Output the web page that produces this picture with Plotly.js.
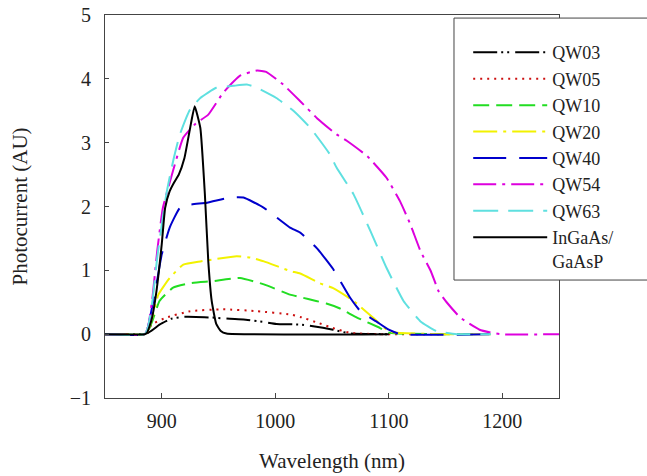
<!DOCTYPE html>
<html>
<head>
<meta charset="utf-8">
<script src="https://cdn.plot.ly/plotly-3.0.1.min.js"></script>
<style>html,body{margin:0;padding:0;background:#fff;}
#chart{position:absolute;left:0;top:0;z-index:5;width:647px;height:476px;}
#warm{position:absolute;left:560px;top:300px;z-index:1;color:#fff;font-size:18px;}
</style>
</head>
<body>
<div id="warm">
<div style="font-family:'Liberation Serif'">nm</div>
<div style="font-family:'Times New Roman'">nm</div>
<div style="font-family:serif">nm</div>
</div>
<div id="chart"></div>
<script>
// Data
const seriesNames = ["QW03", "QW05", "QW10", "QW20", "QW40", "QW54", "QW63", "InGaAs/<br>GaAsP"];

const qw03X = [850, 885, 888, 893, 898, 908, 918, 930, 945, 960, 972, 990, 1001, 1022, 1042, 1051, 1066, 1100];
const qw03Y = [0, 0, 0.02, 0.08, 0.15, 0.24, 0.27, 0.27, 0.26, 0.24, 0.23, 0.19, 0.16, 0.15, 0.10, 0.07, 0.01, 0];

const qw05X = [850, 885, 888, 891, 904, 925, 954, 984, 1013, 1022, 1039, 1050, 1066, 1090, 1150];
const qw05Y = [0, 0, 0.05, 0.15, 0.26, 0.36, 0.39, 0.36, 0.31, 0.27, 0.17, 0.10, 0.02, 0, 0];

const qw10X = [850, 885, 888, 892, 898, 910, 925, 945, 969, 990, 1013, 1022, 1036, 1045, 1056, 1072, 1092, 1101, 1180];
const qw10Y = [0, 0, 0.05, 0.22, 0.52, 0.73, 0.80, 0.83, 0.88, 0.78, 0.62, 0.58, 0.52, 0.48, 0.41, 0.26, 0.10, 0.02, 0];

const qw20X = [850, 885, 888, 892, 897, 907, 919, 934, 966, 978, 990, 1013, 1022, 1039, 1051, 1069, 1086, 1101, 1190];
const qw20Y = [0, 0, 0.06, 0.28, 0.62, 0.88, 1.09, 1.14, 1.22, 1.20, 1.14, 0.99, 0.95, 0.80, 0.72, 0.52, 0.26, 0.04, 0];

const qw40X = [850, 885, 888, 892, 896, 900, 907, 916, 925, 940, 960, 972, 990, 1013, 1022, 1037, 1051, 1066, 1075, 1089, 1100, 1110, 1195];
const qw40Y = [0, 0, 0.12, 0.47, 0.85, 1.25, 1.67, 1.98, 2.03, 2.06, 2.14, 2.14, 1.98, 1.67, 1.59, 1.34, 1.02, 0.57, 0.36, 0.20, 0.07, 0, 0];

const qw54X = [850, 885, 888, 892, 896, 901, 909, 919, 930, 941, 954, 969, 984, 992, 1007, 1022, 1037, 1054, 1063, 1081, 1098, 1110, 1119, 1128, 1137, 1144, 1151, 1163, 1180, 1198, 1250];
const qw54Y = [0, 0, 0.12, 0.60, 1.30, 1.98, 2.50, 3.08, 3.30, 3.44, 3.78, 4.05, 4.13, 4.11, 3.91, 3.65, 3.38, 3.13, 3.03, 2.79, 2.45, 2.08, 1.72, 1.30, 0.99, 0.67, 0.50, 0.26, 0.07, 0, 0];

const qw63X = [850, 885, 888, 892, 896, 904, 910, 916, 925, 934, 948, 963, 975, 984, 1001, 1016, 1031, 1048, 1054, 1069, 1084, 1098, 1113, 1128, 1142, 1160, 1190];
const qw63Y = [0, 0, 0.12, 0.55, 1.20, 2.19, 2.71, 3.13, 3.52, 3.70, 3.86, 3.89, 3.91, 3.86, 3.70, 3.50, 3.23, 2.82, 2.61, 2.19, 1.61, 1.04, 0.52, 0.20, 0.05, 0, 0];

const ingaasX = [850, 885, 887, 891, 895, 900, 903, 907, 911, 915, 920, 925, 929, 934, 938, 941, 944, 948, 952, 957, 1100];
const ingaasY = [0, 0, 0.02, 0.22, 0.63, 1.41, 1.98, 2.24, 2.38, 2.50, 2.76, 3.23, 3.57, 3.23, 2.19, 1.14, 0.52, 0.16, 0.05, 0.01, 0];

const xTickVals = [900, 1000, 1100, 1200];
const yTickVals = [-1, 0, 1, 2, 3, 4, 5];

const xs = [qw03X, qw05X, qw10X, qw20X, qw40X, qw54X, qw63X, ingaasX];
const ys = [qw03Y, qw05Y, qw10Y, qw20Y, qw40Y, qw54Y, qw63Y, ingaasY];
const colors = ["#000000", "#cc1010", "#22dd22", "#f2f200", "#0000cc", "#dd00dd", "#5fe0e0", "#000000"];
const dashes = ["24px,4px,2px,4px,2px,6px", "2px,5px", "16px,7px", "24px,6px,3px,6px", "33px,13px", "23px,6px,3px,6px", "25px,10px", "solid"];

const FONT = "Liberation Serif";

const traces = seriesNames.map((n, i) => ({
  type: "scatter",
  mode: "lines",
  name: n,
  x: xs[i],
  y: ys[i],
  line: {color: colors[i], width: 2, dash: dashes[i], shape: "spline", smoothing: 0.4}
}));

const layout = {
  width: 647, height: 476,
  margin: {l: 105, r: 88, t: 15, b: 78},
  font: {family: FONT, size: 20},
  showlegend: true,
  legend: {
    x: 0.80, y: 0.95, xanchor: "left", yanchor: "top",
    bgcolor: "rgba(0,0,0,0)", borderwidth: 0,
    font: {size: 18, color: "#222222"},
    itemwidth: 74, valign: "top", tracegroupgap: 0
  },
  xaxis: {
    range: [850, 1250],
    tickvals: xTickVals,
    ticks: "inside", ticklen: 5, tickwidth: 1, tickcolor: "#444",
    showline: true, linecolor: "#444", linewidth: 1, mirror: true,
    showgrid: false, zeroline: false,
    ticklabelstandoff: 5,
    tickfont: {color: "#222222"},
    title: {text: "Wavelength (nm)", font: {size: 21, color: "#222222"}, standoff: 22}
  },
  yaxis: {
    range: [-1, 5],
    tickvals: yTickVals,
    ticks: "inside", ticklen: 4, tickwidth: 1, tickcolor: "#444",
    showline: true, linecolor: "#444", linewidth: 1, mirror: true,
    showgrid: false, zeroline: false,
    ticklabelstandoff: 9,
    tickfont: {color: "#222222"},
    title: {text: "Photocurrent (AU)", font: {size: 21, color: "#222222"}, standoff: 36}
  },
  shapes: [{
    type: "rect", xref: "paper", yref: "paper",
    x0: 0.7687, x1: 1.4, y0: 0.308, y1: 0.992,
    fillcolor: "#ffffff", line: {color: "#444", width: 1}, layer: "above"
  }]
};

Plotly.newPlot("chart", traces, layout, {staticPlot: true});
</script>
</body>
</html>
